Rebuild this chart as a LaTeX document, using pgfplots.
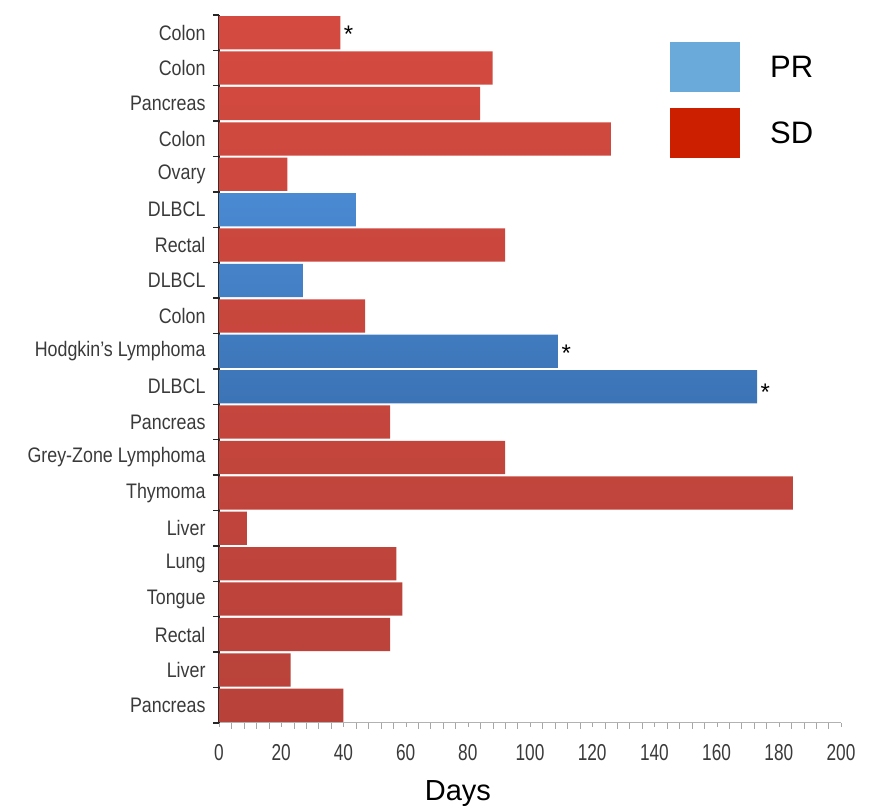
\documentclass[border=0pt]{standalone}
\usepackage{pgfplots}
\pgfplotsset{compat=1.18}
\usepackage{fontspec}
\setmainfont{Liberation Sans}
\definecolor{sdred}{HTML}{D44A40}
\definecolor{sdreddark}{HTML}{B8423A}
\definecolor{prblue}{HTML}{4A8AD2}
\definecolor{prbluedark}{HTML}{3C74B6}
\definecolor{legblue}{HTML}{6AAADB}
\definecolor{legred}{HTML}{CC1F00}
\definecolor{ticktext}{HTML}{3A3A3A}
\newcommand{\nr}[1]{\scalebox{0.85}[1]{#1}}
\newcommand{\nx}[1]{\scalebox{0.75}[1]{#1}}
\begin{document}
\begin{tikzpicture}
\path[use as bounding box] (0,0) rectangle (873pt,806pt);
\begin{axis}[
  at={(219pt,83pt)}, anchor=south west,
  scale only axis, width=622pt, height=708pt,
  xmin=0, xmax=200, ymin=-0.5, ymax=19.5,
  axis x line*=bottom, axis y line*=left,
  x axis line style={draw=gray!60, line width=1pt},
  y axis line style={draw=black!85, line width=1.6pt},
  xtick={0,20,...,200},
  minor x tick num=4,
  xtick style={draw=gray!70},
  x tick label style={font=\fontsize{23}{23}\selectfont, text=ticktext, yshift=-14pt},
  xticklabel={\nx{\pgfmathprintnumber[assume math mode=true]{\tick}}},
  ytick={0,...,19},
  yticklabels={\nr{Pancreas},\nr{Liver},\nr{Rectal},\nr{Tongue},\nr{Lung},\nr{Liver},\nr{Thymoma},\nr{Grey-Zone Lymphoma},\nr{Pancreas},\nr{DLBCL},\nr{Hodgkin's Lymphoma},\nr{Colon},\nr{DLBCL},\nr{Rectal},\nr{DLBCL},\nr{Ovary},\nr{Colon},\nr{Pancreas},\nr{Colon},\nr{Colon}},
  y tick label style={font=\fontsize{21}{21}\selectfont, text=ticktext, xshift=-6pt},
  major y tick style={draw=none},
  minor ytick={-0.5,0.5,...,19.5},
  minor y tick style={draw=black!85, line width=1.4pt},
  tick align=outside,
  minor tick length=6pt,
  major tick length=4pt,
  xbar, bar width=0.94, bar shift=0pt,
  legend cell align=left,
  legend style={draw=none, fill=none, at={(rel axis cs:0.725,0.962)}, anchor=north west,
    font=\fontsize{31}{34}\selectfont, row sep=16pt, inner sep=0pt,
    /tikz/every odd column/.append style={column sep=28pt}},
  xlabel={Days},
  xlabel style={font=\fontsize{29}{29}\selectfont, at={(axis description cs:0.384,0)}, anchor=base, yshift=-77pt},
]
\addplot[draw=none, top color=prblue, bottom color=prbluedark,
  legend image code/.code={\path[shade=false, fill=legblue] (0pt,-25pt) rectangle (70pt,25pt);}]
  coordinates {(44,14) (27,12) (109,10) (173,9)};
\addlegendentry{PR}
\addplot[draw=none, top color=sdred, bottom color=sdreddark,
  legend image code/.code={\path[shade=false, fill=legred] (0pt,-25pt) rectangle (70pt,25pt);}]
  coordinates {(39,19) (88,18) (84,17) (126,16) (22,15) (92,13) (47,11)
   (55,8) (92,7) (184.5,6) (9,5) (57,4) (59,3) (55,2) (23,1) (40,0)};
\addlegendentry{SD}
\node[anchor=west, font=\fontsize{24}{24}\selectfont, yshift=-2pt] at (axis cs:39,19) {*};
\node[anchor=west, font=\fontsize{24}{24}\selectfont, yshift=-2pt] at (axis cs:109,10) {*};
\node[anchor=west, font=\fontsize{24}{24}\selectfont, yshift=-6pt] at (axis cs:173,9) {*};
\end{axis}
\end{tikzpicture}
\end{document}
